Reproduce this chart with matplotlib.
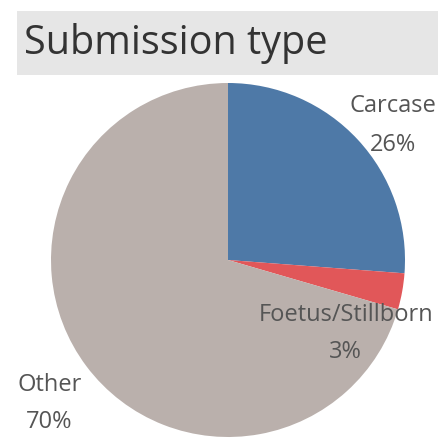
import matplotlib
matplotlib.use('Agg')
from matplotlib import pyplot as plt
from matplotlib.patches import Rectangle

# data
categories = ['Carcase', 'Foetus/Stillborn', 'Other']
shares = [26.2, 3.3, 70.5]
pct_labels = ['26%', '3%', '70%']
colors = ['#4e79a7', '#e15759', '#bab0ac']

plt.rcParams['font.family'] = ['Open Sans', 'DejaVu Sans']

fig = plt.figure(figsize=(4.38, 4.48), dpi=100)

# title band
fig.patches.append(Rectangle((17 / 438, 1 - 75 / 448), 1 - 17 / 438, 64 / 448,
                             transform=fig.transFigure, facecolor='#e6e6e6',
                             edgecolor='none', zorder=0))
fig.text(24 / 438, 1 - 43 / 448, 'Submission type', fontsize=28.5, color='#333333',
         ha='left', va='center')

# pie
ax = fig.add_axes([51 / 438, 11 / 448, 354 / 438, 354 / 448])
ax.pie(shares, colors=colors, startangle=90, counterclock=False, radius=1,
       wedgeprops=dict(linewidth=0))
ax.set_xlim(-1, 1)
ax.set_ylim(-1, 1)
ax.axis('off')

# labels (name, pct) positions in data units
label_pos = [(0.93, 0.87, 0.65), (0.665, -0.31, -0.52), (-1.01, -0.705, -0.915)]
for name, pct, (x, y1, y2) in zip(categories, pct_labels, label_pos):
    ax.text(x, y1, name, fontsize=17, color='#555555', ha='center', va='center', clip_on=False)
    ax.text(x, y2, pct, fontsize=17, color='#555555', ha='center', va='center', clip_on=False)

plt.savefig('out.png', dpi=100)
